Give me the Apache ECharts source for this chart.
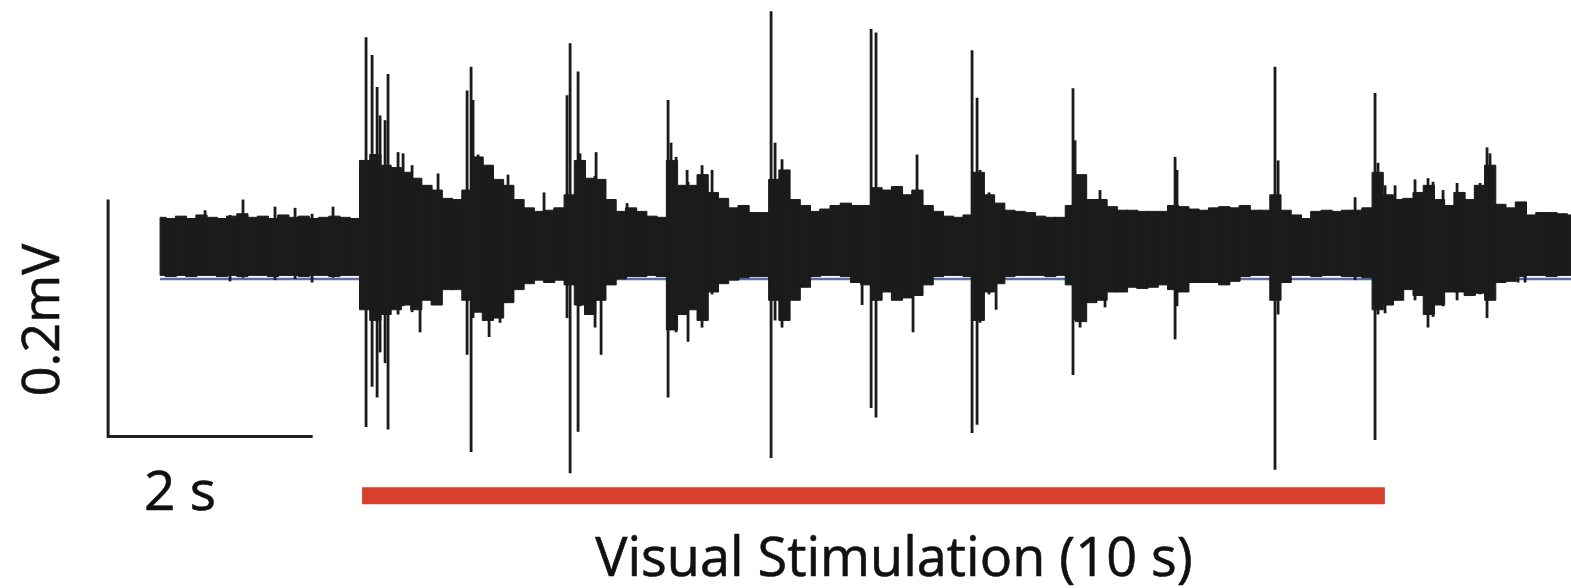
<!DOCTYPE html>
<html>
<head>
<meta charset="utf-8">
<title>Extracellular recording during visual stimulation</title>
<script src="https://cdn.jsdelivr.net/npm/echarts@6/dist/echarts.min.js"></script>
<style>
  html, body { margin: 0; padding: 0; background: #ffffff; }
  #chart { width: 1571px; height: 588px; }
</style>
</head>
<body>
<div id="chart"></div>
<script>
// Recording trace, in µV, sampled as an envelope every 0.1 s (time 0 = start of trace)
const BIN_STEP = 0.1; // s
const bandTop = [
  25, 24, 26, 24, 27, 25, 24, 26, 28, 25, 26, 24, 27, 25, 26, 24, 25, 26, 25, 24,
  73, 78, 69, 67, 63, 58, 52, 48, 41, 40, 48, 76, 69, 57, 52, 40, 33, 30, 31, 33,
  44, 73, 58, 57, 40, 30, 33, 30, 26, 25, 73, 52, 52, 61, 46, 41, 33, 35, 29, 29,
  57, 65, 40, 35, 30, 32, 35, 37, 35, 35, 50, 48, 51, 44, 48, 35, 30, 26, 25, 27,
  63, 44, 37, 31, 30, 29, 26, 25, 25, 35, 61, 40, 40, 34, 31, 31, 30, 30, 30, 35,
  34, 32, 31, 33, 34, 33, 35, 31, 31, 44, 31, 27, 24, 30, 31, 30, 31, 31, 33, 63,
  44, 40, 41, 46, 52, 40, 35, 46, 40, 52, 69, 36, 33, 38, 27, 29, 29, 28, 27
];
const bandBottom = [
  -24, -25, -24, -25, -24, -24, -25, -24, -25, -24, -24, -25, -24, -24, -25, -24, -24, -25, -24, -24,
  -53, -62, -57, -53, -49, -53, -45, -49, -36, -36, -45, -55, -62, -60, -47, -36, -31, -28, -30, -28,
  -32, -49, -57, -45, -32, -27, -25, -25, -24, -25, -70, -57, -53, -62, -38, -31, -28, -26, -25, -25,
  -45, -62, -45, -34, -25, -24, -24, -25, -30, -32, -45, -38, -45, -43, -41, -32, -25, -24, -24, -25,
  -62, -38, -31, -25, -24, -24, -24, -25, -24, -32, -63, -47, -45, -38, -38, -34, -35, -34, -32, -36,
  -38, -30, -30, -30, -32, -29, -25, -24, -24, -45, -30, -24, -24, -25, -24, -24, -25, -25, -26, -53,
  -49, -45, -36, -41, -57, -49, -38, -38, -41, -39, -45, -30, -29, -25, -24, -24, -25, -24, -24
];

// Individual spikes: time (s), positive peak (µV), negative peak (µV)
const spikeTimes = [
  0.440, 0.684, 0.811, 1.124, 1.320, 1.486, 1.691,
  2.014, 2.073, 2.122, 2.151, 2.200, 2.229, 2.327, 2.376, 2.464, 2.542, 2.718,
  3.002, 3.041, 3.060, 3.109, 3.217, 3.324, 3.402, 3.754,
  3.979, 4.009, 4.087, 4.106, 4.253, 4.263, 4.312, 4.566,
  4.967, 4.996, 5.045, 5.153, 5.162, 5.299, 5.397,
  5.974, 6.013, 6.081, 6.864, 6.952, 7.000, 7.206, 7.362, 7.401,
  7.939, 7.988, 8.017, 8.105, 8.174, 8.926, 8.946, 8.995, 9.190, 9.239,
  9.924, 9.943, 10.901, 10.931, 11.684, 11.879, 11.908, 11.977, 12.075,
  12.270, 12.397, 12.446, 12.544, 12.681, 12.906, 12.974, 13.003, 13.277, 13.346
];
const spikeHigh = [
  31, 27, 40, 34, 33, 28, 34,
  177, 162, 135, 111, 107, 146, 80, 79, 69, 50, 62,
  132, 152, 124, 78, 69, 55, 61, 46,
  128, 172, 148, 79, 60, 80, 50, 37,
  124, 88, 76, 65, 55, 69, 65,
  199, 88, 74, 30, 184, 181, 51, 40, 78,
  166, 126, 65, 46, 35, 134, 90, 55, 48, 35,
  76, 65, 152, 73, 42, 130, 71, 52, 52,
  57, 58, 55, 48, 54, 54, 84, 79, 38, 38
];
const spikeLow = [
  -24, -29, -26, -28, -27, -30, -26,
  -152, -118, -127, -89, -98, -154, -57, -50, -55, -72, -40,
  -91, -173, -60, -55, -76, -64, -40, -28,
  -60, -191, -156, -50, -68, -45, -91, -25,
  -127, -60, -72, -50, -80, -68, -40,
  -178, -62, -68, -49, -136, -144, -40, -72, -40,
  -157, -150, -64, -40, -53, -108, -62, -68, -40, -51,
  -78, -50, -188, -57, -28, -163, -57, -56, -45,
  -45, -68, -59, -50, -45, -40, -60, -45, -30, -30
];

// Reference baseline under the trace (µV)
const BASELINE_UV = -27;
// Stimulus period (s) and scale bars (2 s, 0.2 mV = 200 µV)
const STIM_START = 1.975;
const STIM_DURATION = 10;
const STIM_LEVEL_UV = -210;
const SCALE_ORIGIN = [-0.508, -160];
const SCALE_TIME = 2;
const SCALE_VOLT_UV = 200;

const traceColor = '#1b1b1b';

// Each envelope bin is drawn as a min/max column spanning its 0.1 s
const bandData = bandTop.map((top, i) => [+(i * BIN_STEP).toFixed(2), top, bandBottom[i]]);
const spikeData = spikeTimes.map((t, i) => [t, spikeHigh[i], spikeLow[i]]);
const traceEnd = bandData[bandData.length - 1][0];

const chart = echarts.init(document.getElementById('chart'), null, { renderer: 'canvas' });

chart.setOption({
  backgroundColor: '#ffffff',
  animation: false,
  grid: { left: 0, right: 0, top: 0, bottom: 0 },
  xAxis: { type: 'value', min: -1.565, max: 13.795, show: false },
  yAxis: { type: 'value', min: -287.8, max: 208.4, show: false },
  series: [
    {
      name: 'baseline',
      type: 'line',
      data: [[0, BASELINE_UV], [traceEnd, BASELINE_UV]],
      symbol: 'none',
      lineStyle: { color: '#5a6eaa', width: 2.5 },
      z: 1
    },
    {
      name: 'envelope',
      type: 'custom',
      data: bandData,
      clip: false,
      z: 2,
      renderItem: function (params, api) {
        const t = api.value(0);
        const start = Math.max(0, t - BIN_STEP / 2);
        const p1 = api.coord([start, api.value(1)]);
        const p2 = api.coord([t + BIN_STEP / 2, api.value(2)]);
        return {
          type: 'rect',
          shape: { x: p1[0], y: p1[1], width: p2[0] - p1[0] + 1, height: p2[1] - p1[1] },
          style: { fill: traceColor, stroke: traceColor, lineWidth: 1 }
        };
      }
    },
    {
      name: 'spikes',
      type: 'custom',
      data: spikeData,
      clip: false,
      z: 3,
      renderItem: function (params, api) {
        const top = api.coord([api.value(0), api.value(1)]);
        const bottom = api.coord([api.value(0), api.value(2)]);
        return {
          type: 'line',
          shape: { x1: top[0], y1: top[1], x2: bottom[0], y2: bottom[1] },
          style: { stroke: traceColor, lineWidth: 2.8 }
        };
      }
    },
    {
      name: 'scale bar',
      type: 'line',
      data: [
        [SCALE_ORIGIN[0], SCALE_ORIGIN[1] + SCALE_VOLT_UV],
        [SCALE_ORIGIN[0], SCALE_ORIGIN[1]],
        [SCALE_ORIGIN[0] + SCALE_TIME, SCALE_ORIGIN[1]]
      ],
      symbol: 'none',
      lineStyle: { color: '#1e1e1e', width: 3, cap: 'butt', join: 'miter' },
      z: 4
    },
    {
      name: 'stimulus',
      type: 'line',
      data: [[STIM_START, STIM_LEVEL_UV], [STIM_START + STIM_DURATION, STIM_LEVEL_UV]],
      symbol: 'none',
      lineStyle: { color: '#d8402e', width: 17, cap: 'butt' },
      z: 4
    }
  ],
  graphic: [
    {
      type: 'text',
      x: 180, y: 494,
      style: {
        text: '2 s',
        font: '55px "Open Sans", "Noto Sans", sans-serif',
        fill: '#111111',
        stroke: '#111111',
        lineWidth: 0.6,
        textAlign: 'center',
        textVerticalAlign: 'middle'
      }
    },
    {
      type: 'text',
      x: 44, y: 320,
      rotation: Math.PI / 2,
      style: {
        text: '0.2mV',
        font: '52px "Open Sans", "Noto Sans", sans-serif',
        fill: '#111111',
        stroke: '#111111',
        lineWidth: 0.6,
        textAlign: 'center',
        textVerticalAlign: 'middle'
      }
    },
    {
      type: 'text',
      x: 894, y: 561,
      style: {
        text: 'Visual Stimulation (10 s)',
        font: '54px "Open Sans", "Noto Sans", sans-serif',
        fill: '#111111',
        stroke: '#111111',
        lineWidth: 0.6,
        textAlign: 'center',
        textVerticalAlign: 'middle'
      }
    }
  ]
});
</script>
</body>
</html>
